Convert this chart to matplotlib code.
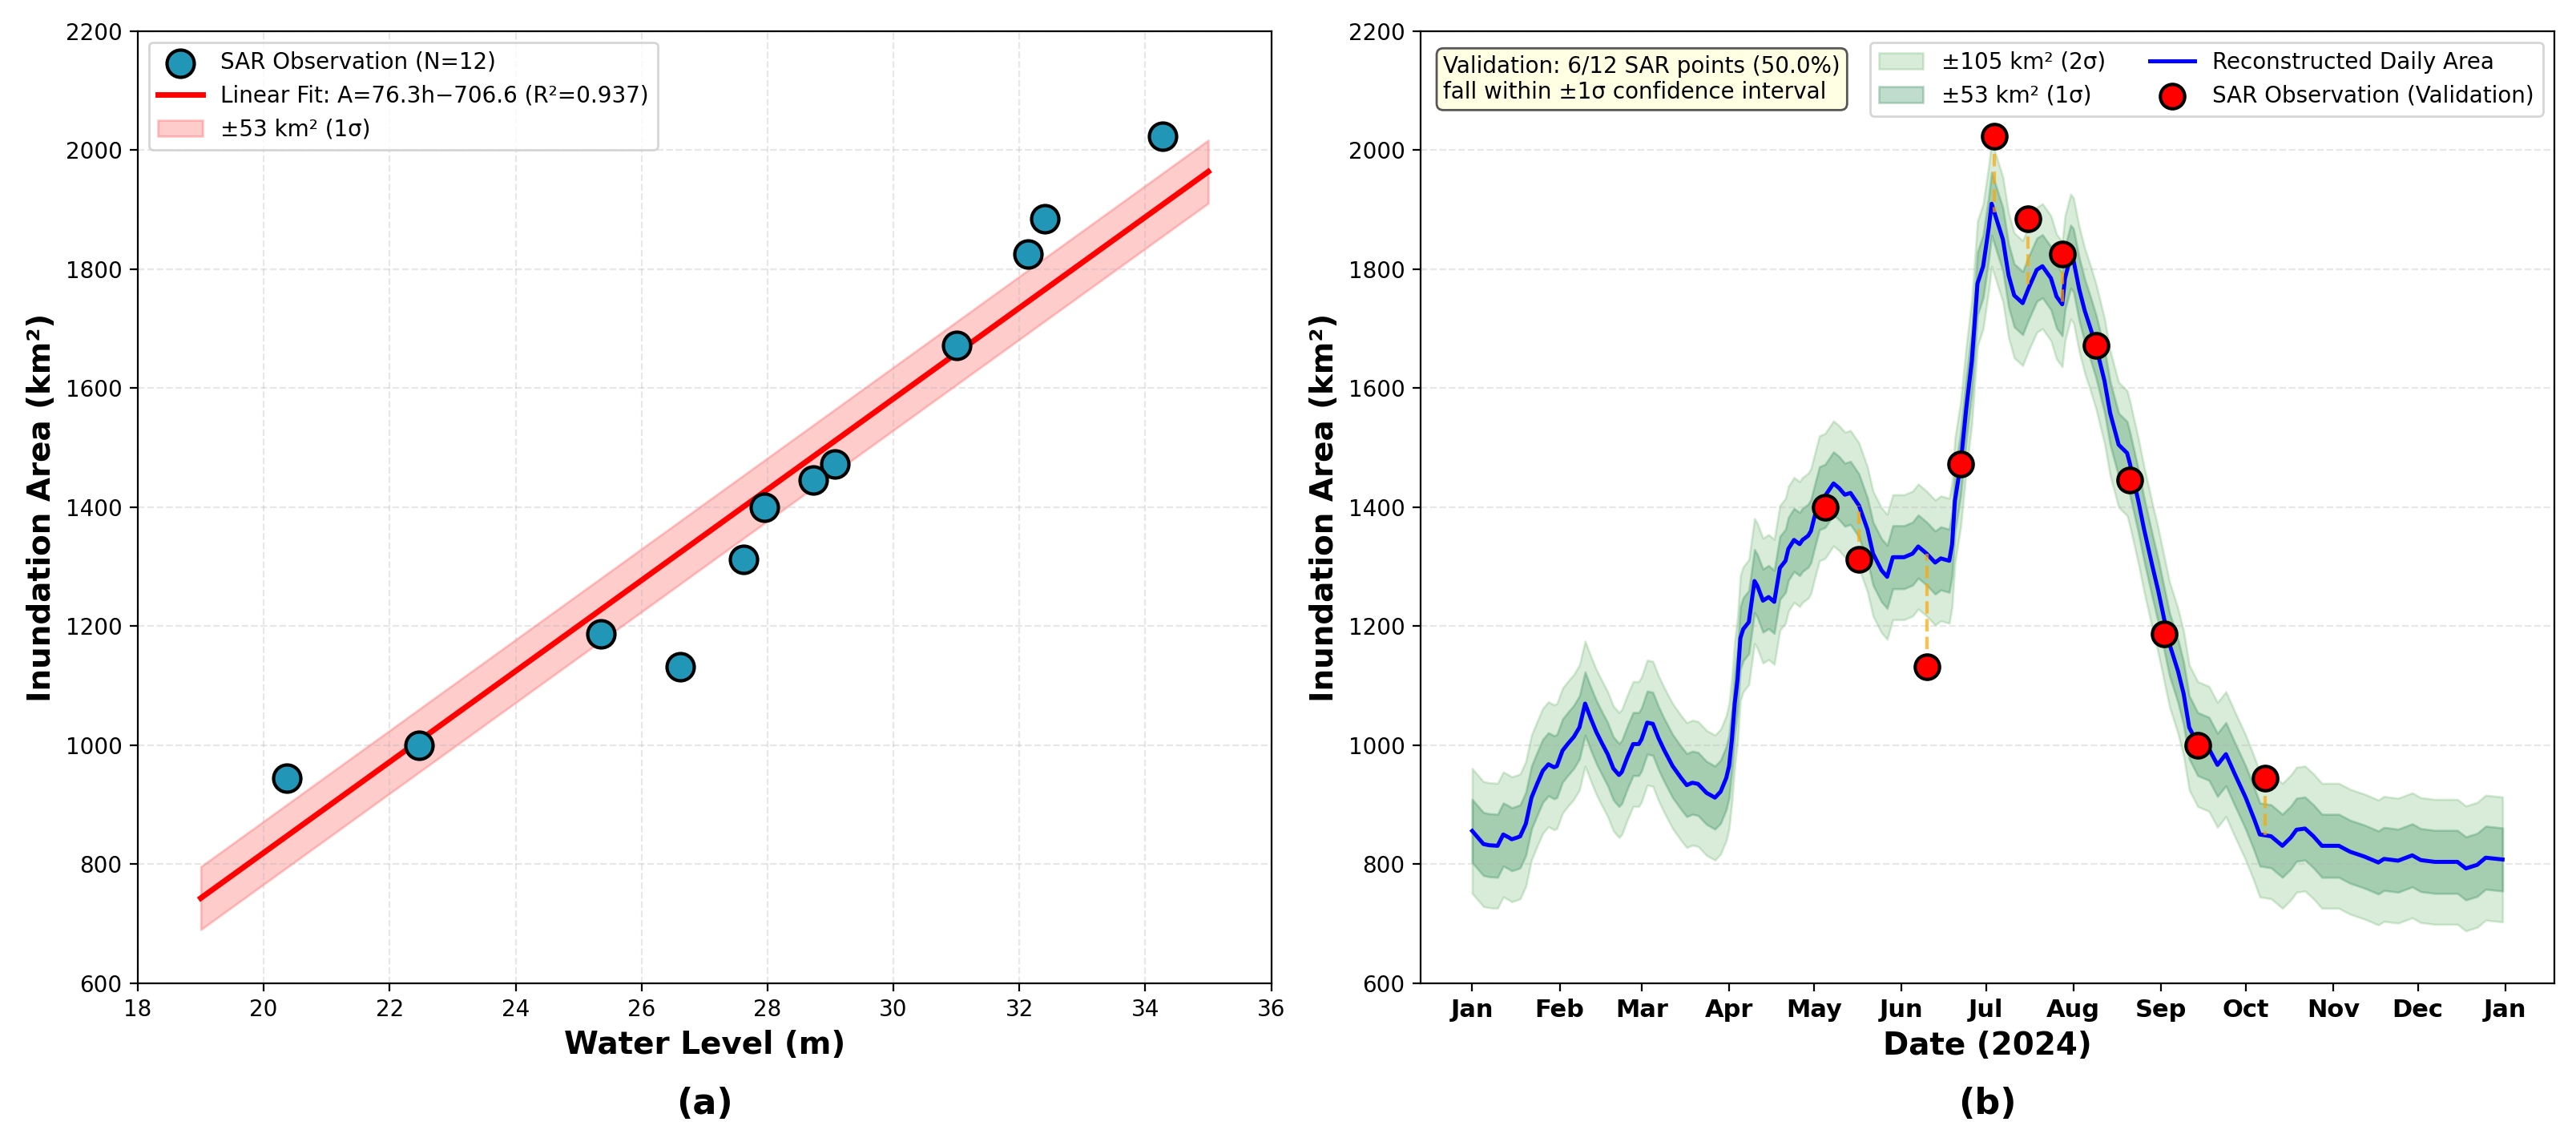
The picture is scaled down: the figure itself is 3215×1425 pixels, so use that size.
import numpy as np
import matplotlib
matplotlib.use("Agg")
import matplotlib.pyplot as plt
import matplotlib.dates as mdates

# SAR observations (12 scenes, 12-day revisit)
sar_dates = ["2024-05-05", "2024-05-17", "2024-06-10", "2024-06-22", "2024-07-04", "2024-07-16",
             "2024-07-28", "2024-08-09", "2024-08-21", "2024-09-02", "2024-09-14", "2024-10-08"]
sar_level = [27.95, 27.62, 26.61, 29.07, 34.27, 32.41, 32.14, 31.0, 28.73, 25.36, 22.47, 20.37]
sar_area = [1400, 1312, 1132, 1472, 2023, 1885, 1826, 1672, 1446, 1187, 1000, 945]

# linear rating fit (from legend)
fit_slope = 76.3
fit_intercept = -706.6
fit_r2 = 0.937
sigma1 = 53
sigma2 = 105
fit_range = [19, 35]

# reconstructed daily area: days since 2024-01-01, km2
recon_day = [0, 2, 4, 6, 9, 11, 13, 14, 16, 17, 19, 21, 23, 25, 27, 29, 30, 32, 34, 36, 38, 40,
             42, 44, 46, 48, 50, 52, 53, 55, 57, 59, 60, 62, 64, 66, 68, 71, 74, 76, 78, 80, 83,
             86, 88, 90, 91, 92, 93, 94, 95, 96, 98, 100, 101, 103, 105, 107, 109, 111, 112, 114,
             116, 117, 119, 120, 121, 123, 125, 128, 130, 132, 134, 137, 140, 142, 145, 147, 149,
             153, 156, 158, 161, 164, 166, 169, 170, 171, 173, 175, 177, 179, 181, 183, 184, 186,
             188, 190, 192, 195, 197, 200, 202, 205, 207, 209, 210, 212, 213, 215, 217, 219, 221,
             224, 226, 229, 232, 233, 236, 238, 241, 243, 245, 247, 250, 252, 254, 257, 261, 264,
             267, 270, 274, 277, 279, 283, 287, 290, 292, 295, 298, 301, 307, 311, 316, 321, 323,
             328, 333, 336, 341, 349, 352, 356, 359, 365]
recon_area = [856, 845, 834, 832, 831, 850, 845, 842, 845, 847, 868, 912, 935, 957, 968, 963, 965,
              991, 1003, 1014, 1030, 1070, 1045, 1022, 1003, 985, 961, 950, 955, 980, 1002, 1002,
              1010, 1038, 1036, 1012, 992, 965, 945, 933, 937, 935, 920, 912, 922, 945, 965, 1010,
              1070, 1111, 1180, 1195, 1207, 1276, 1268, 1243, 1249, 1241, 1298, 1310, 1330, 1345,
              1338, 1345, 1352, 1360, 1379, 1415, 1419, 1440, 1432, 1421, 1424, 1403, 1363, 1322,
              1294, 1283, 1316, 1316, 1322, 1334, 1322, 1307, 1314, 1310, 1338, 1411, 1471, 1565,
              1646, 1776, 1805, 1870, 1910, 1880, 1850, 1790, 1756, 1743, 1767, 1799, 1805, 1785,
              1754, 1741, 1785, 1821, 1815, 1767, 1730, 1701, 1670, 1612, 1558, 1505, 1491, 1473,
              1410, 1363, 1300, 1260, 1215, 1170, 1125, 1087, 1030, 1002, 994, 967, 985, 953, 912,
              876, 850, 847, 831, 845, 858, 860, 847, 831, 831, 821, 813, 803, 809, 806, 815, 807,
              804, 804, 793, 799, 811, 808]

validation_text = "Validation: 6/12 SAR points (50.0%)\nfall within \u00b11\u03c3 confidence interval"

fig = plt.figure(figsize=(16.075, 7.125), dpi=200)
ax1 = fig.add_axes([0.0535, 0.139, 0.4400, 0.8337])
ax2 = fig.add_axes([0.5515, 0.139, 0.4400, 0.8337])

# ---- (a) rating curve
h = np.linspace(fit_range[0], fit_range[1], 100)
a_fit = fit_slope * h + fit_intercept
band = ax1.fill_between(h, a_fit - sigma1, a_fit + sigma1, color="red", alpha=0.2)
line, = ax1.plot(h, a_fit, color="red", lw=2.5)
sc = ax1.scatter(sar_level, sar_area, s=150, color="#2196b6", edgecolor="black", linewidth=1.5, zorder=5)
ax1.legend([sc, line, band],
           ["SAR Observation (N=12)",
            "Linear Fit: A=%.1fh\u2212%.1f (R\u00b2=%.3f)" % (fit_slope, -fit_intercept, fit_r2),
            "\u00b1%d km\u00b2 (1\u03c3)" % sigma1],
           loc="upper left", fontsize=10)
ax1.set_xlim(18, 36)
ax1.set_ylim(600, 2200)
ax1.set_xlabel("Water Level (m)", fontsize=14, fontweight="bold")
ax1.set_ylabel("Inundation Area (km\u00b2)", fontsize=14, fontweight="bold")
ax1.grid(True, linestyle="--", alpha=0.3)
ax1.text(0.5, -0.127, "(a)", transform=ax1.transAxes, ha="center", va="center",
         fontsize=16, fontweight="bold")

# ---- (b) reconstructed time series
t = np.datetime64("2024-01-01") + np.array(recon_day).astype("timedelta64[D]")
area = np.array(recon_area, dtype=float)
obs_t = np.array(sar_dates, dtype="datetime64[D]")

b2 = ax2.fill_between(t, area - sigma2, area + sigma2, color="green", alpha=0.15)
b1 = ax2.fill_between(t, area - sigma1, area + sigma1, color="seagreen", alpha=0.3)
ln, = ax2.plot(t, area, color="blue", lw=1.8)
recon_at_obs = np.interp(obs_t.astype(float), t.astype(float), area)
for d, o, r in zip(obs_t, sar_area, recon_at_obs):
    ax2.plot([d, d], [o, r], color="orange", ls="--", lw=1.5, alpha=0.7)
sc2 = ax2.scatter(obs_t, sar_area, s=120, color="red", edgecolor="black", linewidth=1.5, zorder=5)
ax2.legend([b2, b1, ln, sc2],
           ["\u00b1%d km\u00b2 (2\u03c3)" % sigma2, "\u00b1%d km\u00b2 (1\u03c3)" % sigma1,
            "Reconstructed Daily Area", "SAR Observation (Validation)"],
           loc="upper right", ncol=2, fontsize=10)
ax2.text(0.02, 0.975, validation_text, transform=ax2.transAxes, ha="left", va="top", fontsize=10,
         bbox=dict(boxstyle="round", facecolor="lightyellow", edgecolor="#444444", alpha=0.9))
ax2.set_ylim(600, 2200)
ax2.xaxis.set_major_locator(mdates.MonthLocator())
ax2.xaxis.set_major_formatter(mdates.DateFormatter("%b"))
for lab in ax2.get_xticklabels():
    lab.set_fontweight("bold")
    lab.set_fontsize(11)
ax2.set_xlabel("Date (2024)", fontsize=14, fontweight="bold")
ax2.set_ylabel("Inundation Area (km\u00b2)", fontsize=14, fontweight="bold")
ax2.grid(True, axis="y", linestyle="--", alpha=0.3)
ax2.text(0.5, -0.127, "(b)", transform=ax2.transAxes, ha="center", va="center",
         fontsize=16, fontweight="bold")

fig.savefig("out.png", dpi=200)
